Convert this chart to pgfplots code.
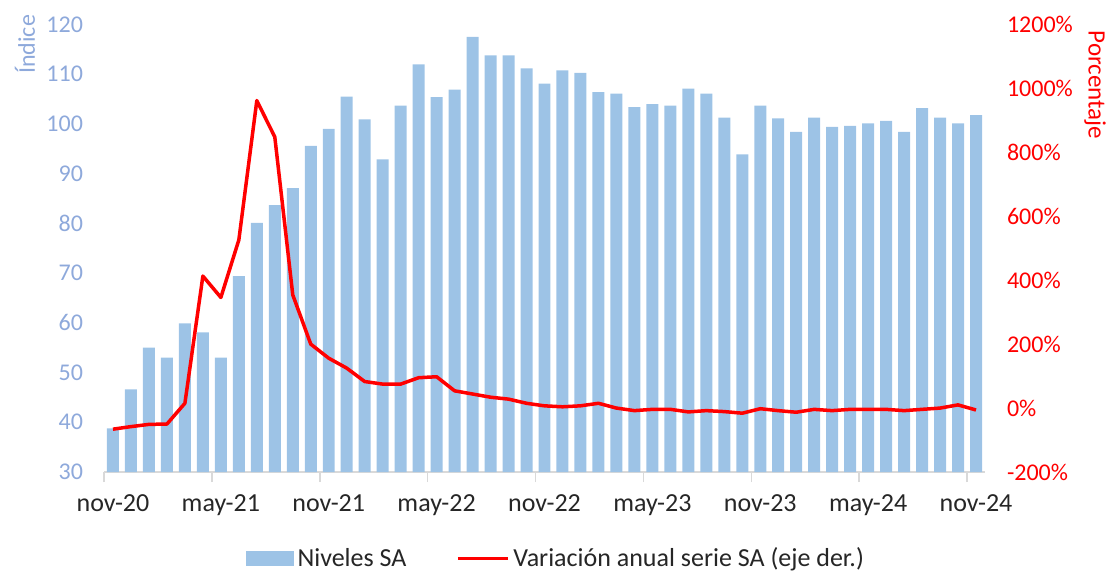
\documentclass[border=0pt]{standalone}
\usepackage{fontspec}
\setmainfont{Carlito}
\usepackage{pgfplots}
\usepackage{pgfplotstable}
\pgfplotsset{compat=1.18}
\definecolor{barblue}{HTML}{9DC3E6}
\definecolor{idxblue}{HTML}{8EA9DB}
\definecolor{axisgray}{HTML}{D9D9D9}
\definecolor{txt}{HTML}{262626}
\definecolor{linered}{HTML}{FF0000}

% niveles SA (eje izq.)
\pgfplotstableread{
i val
0 38.8
1 46.6
2 55.0
3 53.0
4 59.9
5 58.1
6 53.0
7 69.4
8 80.1
9 83.7
10 87.1
11 95.6
12 99.0
13 105.5
14 100.9
15 92.9
16 103.7
17 112.0
18 105.4
19 106.9
20 117.5
21 113.8
22 113.8
23 111.2
24 108.1
25 110.8
26 110.3
27 106.4
28 106.1
29 103.4
30 104.0
31 103.7
32 107.1
33 106.1
34 101.3
35 93.9
36 103.7
37 101.1
38 98.4
39 101.3
40 99.4
41 99.6
42 100.1
43 100.6
44 98.4
45 103.2
46 101.3
47 100.1
48 101.8
}\niveles

% variacion anual, % (eje der.)
\pgfplotstableread{
i var
0 -66
1 -58
2 -51
3 -50
4 15
5 413
6 346
7 526
8 962
9 848
10 354
11 200
12 156
13 125
14 83
15 75
16 75
17 95
18 98
19 54
20 44
21 34
22 28
23 15
24 7
25 4
26 7
27 15
28 0
29 -8
30 -4
31 -4
32 -12
33 -8
34 -11
35 -16
36 -2
37 -8
38 -13
39 -4
40 -8
41 -4
42 -4
43 -4
44 -8
45 -4
46 0
47 10
48 -6
}\variacion

\begin{document}
\begin{tikzpicture}
\useasboundingbox (-52pt,-51pt) rectangle (502pt,236pt);
\begin{axis}[
  name=main,
  scale only axis, width=440.5pt, height=223.75pt,
  xmin=-0.5, xmax=48.5, ymin=30, ymax=120,
  axis x line*=bottom, axis y line*=left,
  x axis line style={axisgray, line width=0.75pt, -},
  y axis line style={draw=none},
  ytick={30,40,...,120},
  yticklabels={30,40,50,60,70,80,90,100,110,120},
  ytick style={draw=none},
  yticklabel style={font=\fontsize{12}{14}\selectfont, text=idxblue, xshift=-7pt},
  xtick={0,6,...,48},
  xticklabels={nov-20,may-21,nov-21,may-22,nov-22,may-23,nov-23,may-24,nov-24},
  xtick style={draw=none},
  xticklabel style={font=\fontsize{13}{15}\selectfont, text=txt, yshift=-8pt},
  extra x ticks={-0.5,5.5,...,47.5},
  extra x tick labels={},
  extra x tick style={tick align=outside, major tick length=5pt,
    xtick style={draw=axisgray, line width=0.75pt}},
]
\addplot[ybar, bar width=0.667, fill=barblue, draw=none] table[x=i, y=val] {\niveles};
\end{axis}
\begin{axis}[
  scale only axis, width=440.5pt, height=223.75pt,
  xmin=-0.5, xmax=48.5, ymin=-200, ymax=1200,
  axis x line=none, axis y line*=right,
  y axis line style={draw=none}, ytick style={draw=none},
  ytick={-200,0,...,1200},
  yticklabels={-200\%,0\%,200\%,400\%,600\%,800\%,1000\%,1200\%},
  yticklabel style={font=\fontsize{12}{14}\selectfont, text=linered, xshift=7.5pt},
  legend columns=2,
  legend style={at={(0.514,-0.194)}, anchor=center, draw=none,
    font=\fontsize{13}{15}\selectfont, text=txt,
    /tikz/every even column/.append style={column sep=23pt}},
]
\addlegendimage{legend image code/.code={\fill[barblue] (0pt,-3.5pt) rectangle (23.5pt,3.5pt);}}
\addlegendentry{Niveles SA}
\addplot[linered, line width=1.75pt, line join=round,
  legend image code/.code={\draw[linered, line width=1.5pt] (0pt,0pt) -- (25pt,0pt);}]
  table[x=i, y=var] {\variacion};
\addlegendentry{Variación anual serie SA (eje der.)}
\end{axis}
\node[xshift=-39.5pt, yshift=5pt, rotate=90, anchor=east, inner sep=0pt,
  text=idxblue, font=\fontsize{12}{14}\selectfont] at (main.north west) {Índice};
\node[xshift=55pt, yshift=-3pt, rotate=-90, anchor=west, inner sep=0pt,
  text=linered, font=\fontsize{12.5}{14}\selectfont] at (main.north east) {Porcentaje};
\end{tikzpicture}
\end{document}
